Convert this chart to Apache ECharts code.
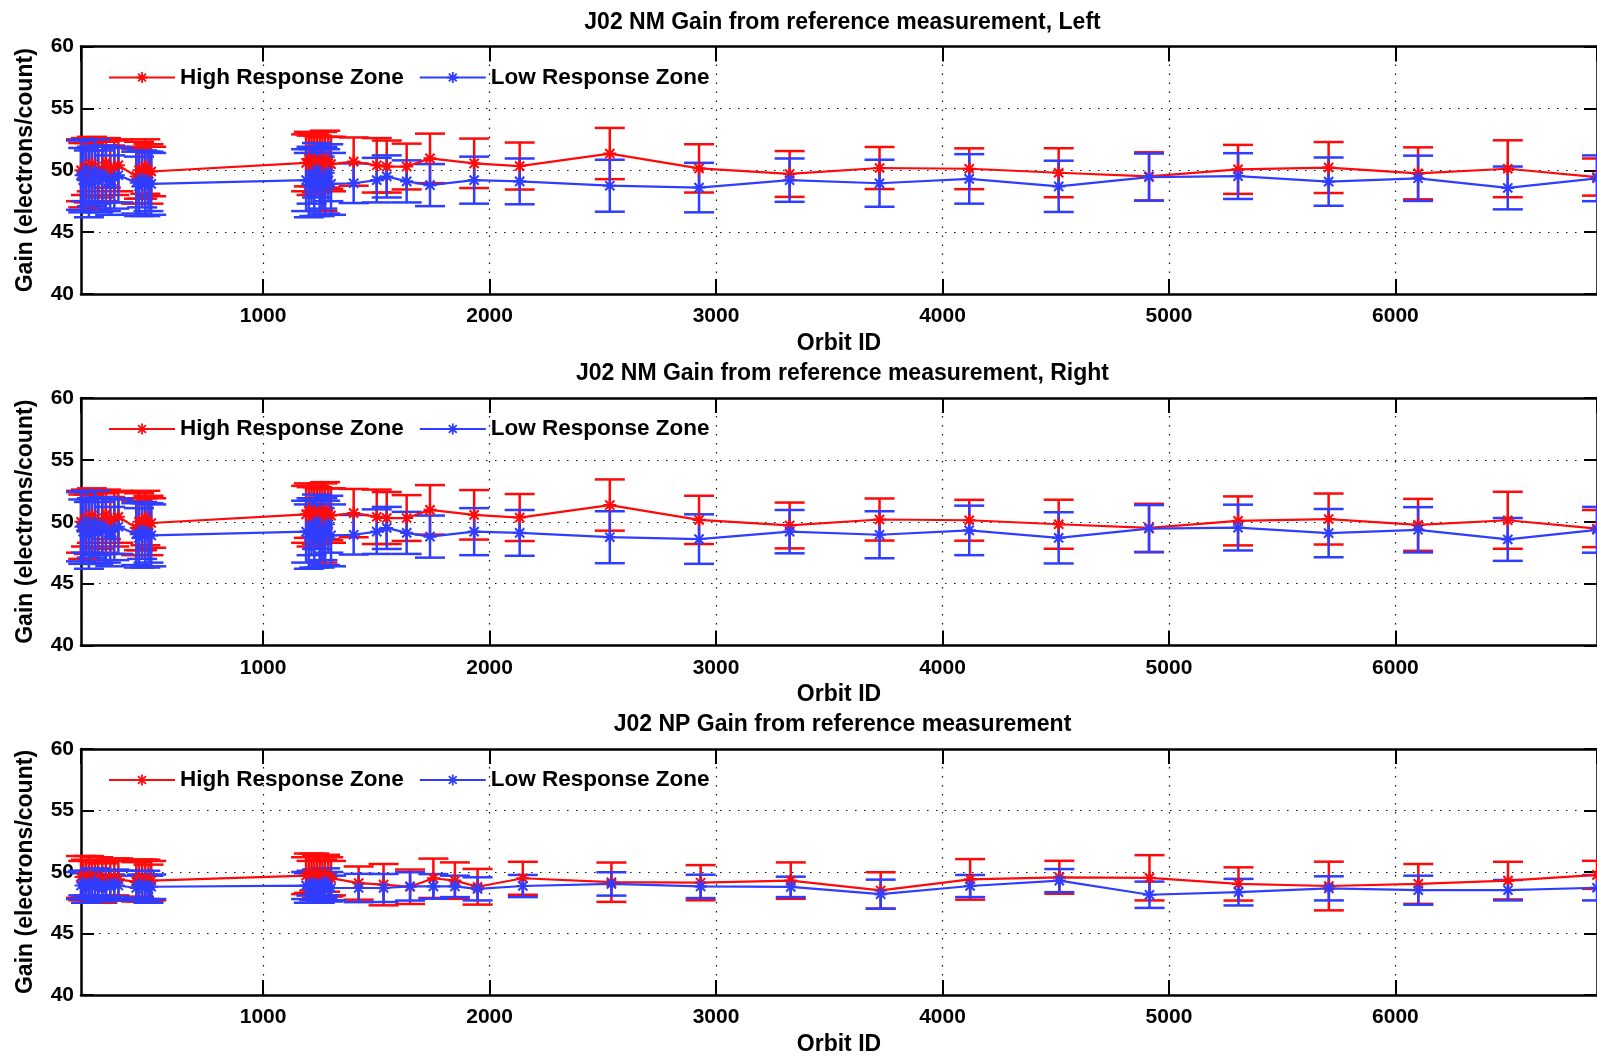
<!DOCTYPE html>
<html>
<head>
<meta charset="utf-8">
<title>J02 Gain from reference measurement</title>
<script src="https://cdn.jsdelivr.net/npm/echarts@6/dist/echarts.min.js"></script>
<style>
  html, body { margin: 0; padding: 0; background: #ffffff; }
  #chart { width: 1597px; height: 1057px; }
</style>
</head>
<body>
<div id="chart"></div>
<script>
// ---------------- data ----------------
// NM (Left and Right give the same reference-measurement values)
const nmOrbit = [196, 206, 218, 231, 244, 258, 272, 290, 306, 325, 343, 361, 440, 452, 466, 480, 494, 506,
  1190, 1202, 1214, 1226, 1238, 1250, 1262, 1274, 1288, 1300,
  1400, 1502, 1546, 1634, 1737, 1932, 2133, 2531, 2925, 3325, 3722, 4118, 4513, 4912, 5305, 5705, 6100, 6496, 6890];
const nmHigh = [50.0, 49.6, 50.3, 49.8, 50.5, 49.4, 50.1, 49.9, 50.6, 49.7, 50.2, 50.4, 49.5, 50.0, 49.8, 50.3, 49.7, 49.9,
  50.6, 50.9, 50.4, 50.8, 50.5, 50.7, 49.9, 50.9, 50.6, 50.5,
  50.7, 50.4, 50.3, 50.3, 50.96, 50.56, 50.34, 51.35, 50.15, 49.7, 50.18, 50.12, 49.8, 49.5, 50.07, 50.22, 49.75, 50.12, 49.45];
const nmHighErr = [2.5, 2.6, 2.3, 2.4, 2.2, 2.5, 2.3, 2.4, 2.0, 2.3, 2.2, 2.1, 2.2, 2.3, 2.1, 2.2, 2.4, 2.0,
  2.3, 2.2, 2.4, 2.1, 2.3, 2.0, 3.2, 2.3, 2.1, 2.2,
  1.95, 2.2, 2.1, 1.85, 2.0, 2.0, 1.9, 2.07, 1.95, 1.85, 1.7, 1.65, 1.98, 1.95, 1.98, 2.06, 2.1, 2.3, 1.5];
const nmLow = [49.6, 49.2, 50.0, 48.9, 49.5, 49.9, 49.1, 49.7, 49.3, 48.8, 49.4, 49.6, 49.0, 48.7, 49.3, 48.9, 49.1, 48.9,
  49.2, 48.8, 49.6, 49.0, 50.0, 48.7, 49.4, 49.1, 49.8, 48.9,
  48.95, 49.2, 49.5, 49.1, 48.8, 49.2, 49.1, 48.75, 48.6, 49.2, 48.95, 49.3, 48.7, 49.45, 49.53, 49.08, 49.35, 48.57, 49.35];
const nmLowErr = [2.8, 2.6, 2.5, 2.7, 2.4, 2.6, 2.5, 2.3, 2.6, 2.4, 2.5, 2.2, 2.5, 2.4, 2.3, 2.6, 2.4, 2.5,
  2.5, 2.6, 2.3, 2.7, 2.2, 2.4, 2.5, 2.6, 2.3, 2.5,
  1.6, 1.8, 1.7, 1.7, 1.7, 1.9, 1.85, 2.1, 2.0, 1.75, 1.9, 2.0, 2.07, 1.9, 1.85, 1.95, 1.83, 1.73, 1.85];

// NP
const npOrbit = [196, 206, 218, 231, 244, 258, 272, 290, 306, 325, 343, 361, 440, 452, 466, 480, 494, 506,
  1190, 1202, 1214, 1226, 1238, 1250, 1262, 1274, 1288, 1300,
  1422, 1532, 1649, 1752, 1847, 1947, 2147, 2538, 2932, 3330, 3727, 4122, 4516, 4914, 5307, 5706, 6101, 6497, 6890];
const npHigh = [49.6, 49.3, 49.5, 49.7, 49.2, 49.4, 49.6, 49.1, 49.5, 49.3, 49.6, 49.4, 49.2, 49.5, 49.3, 49.4, 49.1, 49.3,
  49.7, 49.9, 49.5, 50.0, 49.6, 49.8, 49.4, 49.9, 49.6, 49.5,
  49.1, 48.97, 48.8, 49.49, 49.3, 48.8, 49.49, 49.17, 49.13, 49.3, 48.5, 49.4, 49.57, 49.53, 49.03, 48.86, 49.03, 49.3, 49.77];
const npHighErr = [1.7, 1.6, 1.5, 1.6, 1.7, 1.5, 1.6, 1.6, 1.4, 1.6, 1.5, 1.7, 1.6, 1.5, 1.7, 1.6, 1.5, 1.6,
  1.5, 1.6, 1.4, 1.5, 1.7, 1.4, 1.6, 1.5, 1.6, 1.4,
  1.35, 1.68, 1.4, 1.6, 1.48, 1.45, 1.34, 1.6, 1.43, 1.48, 1.48, 1.65, 1.34, 1.84, 1.35, 1.98, 1.62, 1.53, 1.14];
const npLow = [48.9, 49.1, 48.7, 49.0, 48.8, 49.2, 48.9, 48.6, 49.0, 48.8, 49.1, 48.9, 48.7, 49.0, 48.8, 48.9, 48.6, 48.8,
  48.9, 48.7, 49.1, 48.8, 49.0, 48.6, 48.9, 49.2, 48.8, 48.7,
  48.7, 48.7, 48.83, 48.83, 48.83, 48.63, 48.86, 49.03, 48.83, 48.79, 48.2, 48.86, 49.3, 48.15, 48.36, 48.67, 48.52, 48.52, 48.72];
const npLowErr = [1.1, 1.0, 1.2, 1.1, 1.0, 1.1, 1.2, 1.0, 1.1, 1.0, 1.1, 1.2, 1.0, 1.1, 1.0, 1.2, 1.1, 1.0,
  1.1, 1.2, 1.0, 1.1, 1.2, 1.1, 1.0, 1.1, 1.2, 1.0,
  1.15, 1.14, 1.15, 1.0, 0.87, 0.94, 0.9, 0.95, 0.95, 0.83, 1.18, 0.9, 0.94, 1.07, 1.08, 0.98, 1.18, 0.83, 1.03];

const panelTitles = [
  'J02 NM Gain from reference measurement, Left',
  'J02 NM Gain from reference measurement, Right',
  'J02 NP Gain from reference measurement'
];
const seriesNames = ['High Response Zone', 'Low Response Zone'];
const xLabel = 'Orbit ID';
const yLabel = 'Gain (electrons/count)';

// ---------------- styling ----------------
const RED = '#ff0a0a';
const BLUE = '#2e3dff';
const FONT = '"Liberation Sans", Arial, Helvetica, sans-serif';
const X_MIN = 196, X_MAX = 6890;
const GRID_TOPS = [46.5, 398, 749];
const GRID_H = 247.5;
const GRID_LEFT = 81;
const GRID_RIGHT = -7;   // plot frame runs a few pixels past the canvas edge
const CAP = 15;          // half width of the error-bar caps (px)

// MATLAB-style asterisk marker: "+" and "x" strokes combined
const STAR = 'path://M0,42H100V58H0Z M42,0H58V100H42Z ' +
  'M20.4,9.1L90.9,79.6L79.6,90.9L9.1,20.4Z ' +
  'M79.6,9.1L90.9,20.4L20.4,90.9L9.1,79.6Z';

const panels = [
  { orbit: nmOrbit, high: nmHigh, highErr: nmHighErr, low: nmLow, lowErr: nmLowErr },
  { orbit: nmOrbit, high: nmHigh, highErr: nmHighErr, low: nmLow, lowErr: nmLowErr },
  { orbit: npOrbit, high: npHigh, highErr: npHighErr, low: npLow, lowErr: npLowErr }
];

function renderErrorBar(params, api) {
  const x = api.value(0);
  const lo = api.coord([x, api.value(1)]);
  const hi = api.coord([x, api.value(2)]);
  const style = { stroke: api.visual('color'), lineWidth: 2.5 };
  return {
    type: 'group',
    children: [
      { type: 'line', shape: { x1: lo[0], y1: lo[1], x2: hi[0], y2: hi[1] }, style: style },
      { type: 'line', shape: { x1: lo[0] - CAP, y1: lo[1], x2: lo[0] + CAP, y2: lo[1] }, style: style },
      { type: 'line', shape: { x1: hi[0] - CAP, y1: hi[1], x2: hi[0] + CAP, y2: hi[1] }, style: style }
    ]
  };
}

const dotted = { color: '#111', width: 1.2, type: [1.5, 7.5] };
const frameLine = { show: true, onZero: false, lineStyle: { color: '#000', width: 2.5 } };

const grid = [], xAxis = [], yAxis = [], series = [], legend = [], graphic = [];

panels.forEach(function (p, k) {
  grid.push({ left: GRID_LEFT, right: GRID_RIGHT, top: GRID_TOPS[k], height: GRID_H, containLabel: false });

  // bottom x axis (labels, ticks, grid)
  xAxis.push({
    type: 'value', gridIndex: k, min: X_MIN, max: X_MAX, splitNumber: 6, position: 'bottom',
    name: xLabel, nameLocation: 'middle', nameGap: 38,
    nameTextStyle: { fontFamily: FONT, fontWeight: 'bold', fontSize: 23, color: '#000' },
    axisLine: frameLine,
    axisTick: { show: true, inside: true, length: 15, lineStyle: { color: '#000', width: 2 } },
    axisLabel: { show: true, margin: 12, showMinLabel: false, showMaxLabel: false,
      formatter: function (v) { return String(Math.round(v)); },
      fontFamily: FONT, fontWeight: 'bold', fontSize: 21, color: '#000' },
    splitLine: { show: true, lineStyle: dotted }
  });
  // top x axis (frame + inward ticks)
  xAxis.push({
    type: 'value', gridIndex: k, min: X_MIN, max: X_MAX, splitNumber: 6, position: 'top',
    axisLine: frameLine,
    axisTick: { show: true, inside: true, length: 15, lineStyle: { color: '#000', width: 2 } },
    axisLabel: { show: false }, splitLine: { show: false }
  });
  // left y axis
  yAxis.push({
    type: 'value', gridIndex: k, min: 40, max: 60, interval: 5, position: 'left',
    name: yLabel, nameLocation: 'middle', nameGap: 44, nameRotate: 90,
    nameTextStyle: { fontFamily: FONT, fontWeight: 'bold', fontSize: 23, color: '#000' },
    axisLine: frameLine,
    axisTick: { show: true, inside: true, length: 13, lineStyle: { color: '#000', width: 2 } },
    axisLabel: { show: true, margin: 7, fontFamily: FONT, fontWeight: 'bold', fontSize: 21, color: '#000' },
    splitLine: { show: true, lineStyle: dotted }
  });
  // right y axis (frame + inward ticks)
  yAxis.push({
    type: 'value', gridIndex: k, min: 40, max: 60, interval: 5, position: 'right',
    axisLine: frameLine,
    axisTick: { show: true, inside: true, length: 13, lineStyle: { color: '#000', width: 2 } },
    axisLabel: { show: false }, splitLine: { show: false }
  });

  const xi = k * 2, yi = k * 2;
  const groups = [
    { name: seriesNames[0], color: RED, val: p.high, err: p.highErr },
    { name: seriesNames[1], color: BLUE, val: p.low, err: p.lowErr }
  ];
  groups.forEach(function (g) {
    series.push({
      type: 'custom', xAxisIndex: xi, yAxisIndex: yi, renderItem: renderErrorBar,
      itemStyle: { color: g.color }, silent: true, z: 2,
      data: p.orbit.map(function (x, i) { return [x, g.val[i] - g.err[i], g.val[i] + g.err[i]]; })
    });
    series.push({
      type: 'line', name: g.name, xAxisIndex: xi, yAxisIndex: yi, z: 3,
      symbol: STAR, symbolSize: 13, showSymbol: true,
      itemStyle: { color: g.color }, lineStyle: { color: g.color, width: 2.2 },
      data: p.orbit.map(function (x, i) { return [x, g.val[i]]; })
    });
  });

  legend.push({
    data: seriesNames, selectedMode: false, left: 108, top: GRID_TOPS[k] + 19.5,
    itemWidth: 66, itemHeight: 14, itemGap: 15, padding: 0,
    textStyle: { fontFamily: FONT, fontWeight: 'bold', fontSize: 22.5, color: '#000' }
  });

  graphic.push({
    type: 'text', x: (GRID_LEFT + 1604) / 2, y: GRID_TOPS[k] - 24,
    style: { text: panelTitles[k], align: 'center', verticalAlign: 'middle',
      font: 'bold 23px ' + FONT, fill: '#000' }
  });
});

const chart = echarts.init(document.getElementById('chart'), null, { renderer: 'canvas' });
chart.setOption({
  backgroundColor: '#ffffff',
  animation: false,
  grid: grid, xAxis: xAxis, yAxis: yAxis, legend: legend, graphic: graphic, series: series
});
</script>
</body>
</html>
